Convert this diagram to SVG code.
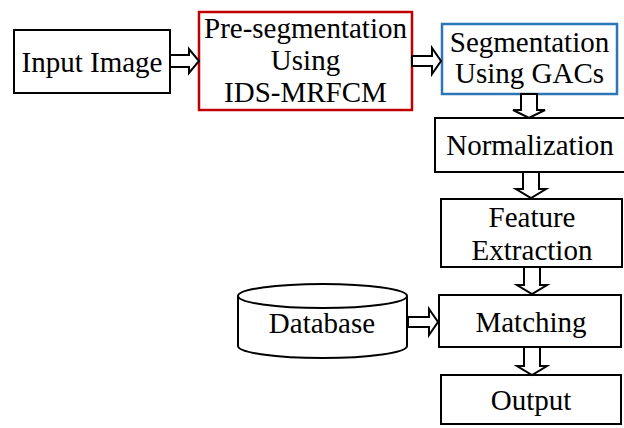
<svg xmlns="http://www.w3.org/2000/svg" width="624" height="428" viewBox="0 0 624 428">
<style>
.box{fill:#fff;stroke:#000;stroke-width:2}
.t{font-size:29px;fill:#000;text-anchor:middle}
.arr{fill:#fff;stroke:#000;stroke-width:2;stroke-linejoin:miter}
</style>
<rect width="624" height="428" fill="#fff"/>
<g font-family="Liberation Serif, DejaVu Serif, serif">
<g id="input"><rect class="box" x="14" y="30" width="156" height="63"/><text class="t" x="92" y="72">Input Image</text></g>
<g id="preseg"><rect x="199" y="12" width="213" height="98" fill="#fff" stroke="#c00000" stroke-width="2.5"/><text class="t" x="305.5" y="38">Pre-segmentation</text><text class="t" x="305.5" y="70">Using</text><text class="t" x="305.5" y="102">IDS-MRFCM</text></g>
<g id="seg"><rect x="442" y="24" width="175" height="70" fill="#fff" stroke="#2e75b6" stroke-width="2.5"/><text class="t" x="529.5" y="52">Segmentation</text><text class="t" x="529.5" y="83">Using GACs</text></g>
<g id="norm"><rect class="box" x="435" y="118" width="192" height="54"/><text class="t" x="530" y="155">Normalization</text></g>
<g id="feat"><rect class="box" x="441" y="199" width="181" height="68"/><text class="t" x="532" y="227">Feature</text><text class="t" x="532" y="260">Extraction</text></g>
<g id="match"><rect class="box" x="439" y="295" width="182" height="52"/><text class="t" x="531" y="332">Matching</text></g>
<g id="output"><rect class="box" x="441" y="375" width="180" height="49"/><text class="t" x="531" y="410">Output</text></g>
<g id="database"><path class="box" d="M238,296 L238,346 A84.5,12 0 0 0 407,346 L407,296"/><ellipse class="box" cx="322.5" cy="296" rx="84.5" ry="12"/><text class="t" x="322" y="333">Database</text></g>
</g>
<g id="connectors">
<polygon class="arr" points="170,55 189,55 189,49 199,61 189,73 189,67 170,67"/>
<polygon class="arr" points="412,56 432,56 432,48 441,61 432,74 432,66 412,66"/>
<polygon class="arr" points="521,94 537,94 537,110 545,110 529,118 513,110 521,110"/>
<polygon class="arr" points="523,172 539,172 539,189 546,189 531,198 516,189 523,189"/>
<polygon class="arr" points="524,267 540,267 540,285 547,285 532,294 517,285 524,285"/>
<polygon class="arr" points="524,347 540,347 540,366 547,366 532,375 517,366 524,366"/>
<polygon class="arr" points="408,317 429,317 429,309 438,322 429,335 429,327 408,327"/>
</g>
</svg>
